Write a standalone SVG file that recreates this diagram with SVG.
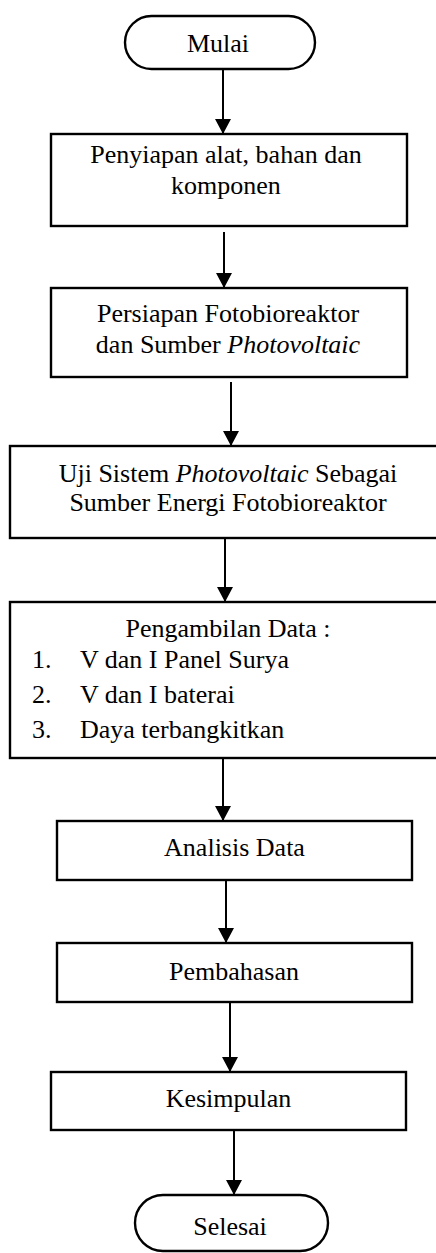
<svg xmlns="http://www.w3.org/2000/svg" width="436" height="1253" viewBox="0 0 436 1253">
<style>
.box{fill:#fff;stroke:#000;stroke-width:2.4}
.t{font-size:26px;fill:#000}
.m{text-anchor:middle}
.c{stroke:#000;stroke-width:2;fill:none}
</style>
<defs>
<marker id="ah" markerUnits="userSpaceOnUse" markerWidth="15" markerHeight="16" refX="15" refY="8" orient="auto">
<path d="M0,0 L15,8 L0,16 z" fill="#000"/>
</marker>
</defs>
<rect width="436" height="1253" fill="#fff"/>
<g id="connectors">
<line class="c" x1="223" y1="69" x2="223" y2="134" marker-end="url(#ah)"/>
<line class="c" x1="224" y1="232" x2="224" y2="288" marker-end="url(#ah)"/>
<line class="c" x1="231" y1="382" x2="231" y2="446" marker-end="url(#ah)"/>
<line class="c" x1="225" y1="538" x2="225" y2="602" marker-end="url(#ah)"/>
<line class="c" x1="223" y1="758" x2="223" y2="821" marker-end="url(#ah)"/>
<line class="c" x1="226" y1="880" x2="226" y2="943" marker-end="url(#ah)"/>
<line class="c" x1="230" y1="1003" x2="230" y2="1072" marker-end="url(#ah)"/>
<line class="c" x1="234" y1="1130" x2="234" y2="1195" marker-end="url(#ah)"/>
</g>
<g font-family="'Liberation Serif', 'Times New Roman', serif">
<g id="mulai">
<rect class="box" x="125" y="16" width="190" height="53" rx="26.5"/>
<text class="t m" x="218" y="52">Mulai</text>
</g>
<g id="penyiapan">
<rect class="box" x="51" y="134" width="356" height="92"/>
<text class="t m" x="226" y="163">Penyiapan alat, bahan dan</text>
<text class="t m" x="226" y="194">komponen</text>
</g>
<g id="persiapan">
<rect class="box" x="51" y="288" width="356" height="89"/>
<text class="t m" x="228" y="322">Persiapan Fotobioreaktor</text>
<text class="t m" x="228" y="353">dan Sumber <tspan font-style="italic">Photovoltaic</tspan></text>
</g>
<g id="uji">
<rect class="box" x="10" y="446" width="440" height="92"/>
<text class="t m" x="228" y="482">Uji Sistem <tspan font-style="italic">Photovoltaic</tspan> Sebagai</text>
<text class="t m" x="228" y="511">Sumber Energi Fotobioreaktor</text>
</g>
<g id="pengambilan">
<rect class="box" x="10" y="602" width="440" height="156"/>
<text class="t m" x="228" y="637">Pengambilan Data :</text>
<text class="t" x="32" y="668">1.</text>
<text class="t" x="80" y="668">V dan I Panel Surya</text>
<text class="t" x="32" y="703">2.</text>
<text class="t" x="80" y="703">V dan I baterai</text>
<text class="t" x="32" y="738">3.</text>
<text class="t" x="80" y="738">Daya terbangkitkan</text>
</g>
<g id="analisis">
<rect class="box" x="57" y="821" width="355" height="59"/>
<text class="t m" x="234.5" y="856">Analisis Data</text>
</g>
<g id="pembahasan">
<rect class="box" x="57" y="943" width="355" height="59"/>
<text class="t m" x="234" y="980">Pembahasan</text>
</g>
<g id="kesimpulan">
<rect class="box" x="51" y="1072" width="355" height="58"/>
<text class="t m" x="228.5" y="1107">Kesimpulan</text>
</g>
<g id="selesai">
<rect class="box" x="135" y="1195" width="193" height="56" rx="28"/>
<text class="t m" x="230" y="1235">Selesai</text>
</g>
</g>
</svg>
